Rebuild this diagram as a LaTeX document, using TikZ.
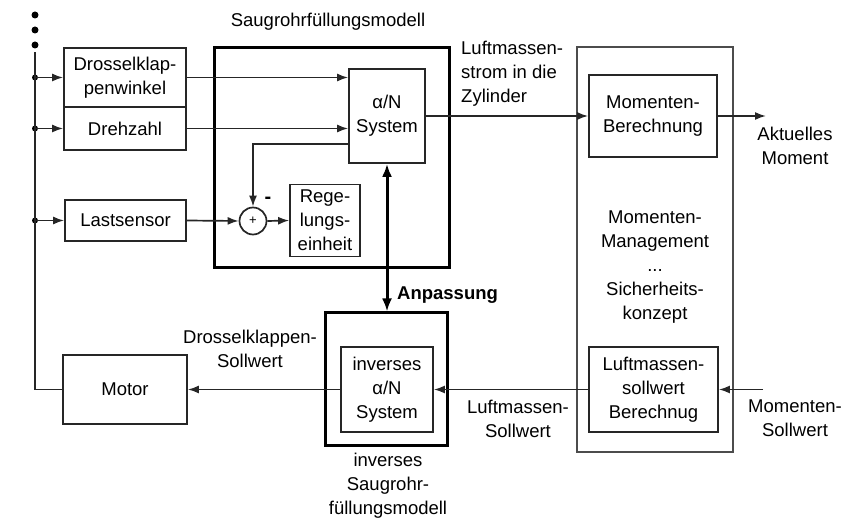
\documentclass[tikz,border=0pt]{standalone}
\usepackage{fontspec}
\setmainfont{Liberation Sans}
\usetikzlibrary{arrows.meta,calc}
\begin{document}
\begin{tikzpicture}[x=1pt,y=-1pt,
  every node/.style={font=\fontsize{18.5}{24}\selectfont},
  blk/.style={draw=black!85,line width=1.7pt,align=center,inner sep=0pt},
  thickbox/.style={draw=black,line width=3pt,inner sep=0pt},
  arr/.style={line width=1.7pt,draw=black!85,-{Latex[length=11pt,width=8pt]}},
  ln/.style={line width=1.7pt,draw=black!85},
  lbl/.style={align=center,inner sep=0pt},
  dotn/.style={circle,fill=black,inner sep=0pt,minimum size=7pt}]
\useasboundingbox (0,0) rectangle (843,518);
% left column
\node[blk,minimum width=122pt,minimum height=59pt] (drossel) at (125,77.5) {Drosselklap-\\penwinkel};
\node[blk,minimum width=122pt,minimum height=43pt] (drehzahl) at (125,128.5) {Drehzahl};
\node[blk,minimum width=121pt,minimum height=41pt] (last) at (125.5,220.5) {Lastsensor};
\node[blk,minimum width=124pt,minimum height=69pt] (motor) at (125,389.5) {Motor};
% Saugrohr model
\node[thickbox,minimum width=235pt,minimum height=220pt] (saug) at (331.5,158) {};
\node[lbl] (saugt) at (328,22) {Saugrohrfüllungsmodell};
\node[blk,minimum width=76pt,minimum height=94pt] (sys) at (387,116) {α/N\\System};
\node[draw=black!85,line width=1.7pt,circle,minimum size=27pt,inner sep=0pt] (sum) at (253,221) {\fontsize{13}{13}\selectfont +};
\node[blk,minimum width=70pt,minimum height=72pt] (regel) at (325,220.5) {Rege-\\lungs-\\einheit};
\node[lbl,font=\fontsize{20}{20}\selectfont\bfseries] (minus) at (268,200) {-};
% inverse model
\node[thickbox,minimum width=122pt,minimum height=132pt] (inv) at (386,379) {};
\node[blk,minimum width=92pt,minimum height=85pt] (invin) at (387,389.5) {inverses\\α/N\\System};
\node[lbl] (invt) at (388,486) {inverses\\Saugrohr-\\füllungsmodell};
% right block
\node[draw=black!70,line width=1.7pt,minimum width=156pt,minimum height=405pt,inner sep=0pt] (rbig) at (655,249.5) {};
\node[blk,minimum width=128pt,minimum height=82pt] (mber) at (653,116) {Momenten-\\Berechnung};
\node[blk,minimum width=129pt,minimum height=85pt] (lsb) at (653.5,389.5) {Luftmassen-\\sollwert\\Berechnug};
\node[lbl] (mgmt) at (655,267) {Momenten-\\Management\\...\\Sicherheits-\\konzept};
% labels
\node[lbl,align=left,anchor=north west] (lstrom) at (461,41) {Luftmassen-\\strom in die\\Zylinder};
\node[lbl] (akt) at (795,146) {Aktuelles\\Moment};
\node[lbl,anchor=west,font=\fontsize{18.5}{20}\selectfont\bfseries] (anp) at (397,295) {Anpassung};
\node[lbl] (dks) at (250,349) {Drosselklappen-\\Sollwert};
\node[lbl] (lms) at (518,419) {Luftmassen-\\Sollwert};
\node[lbl] (mso) at (795,418) {Momenten-\\Sollwert};
% bus
\coordinate (btop) at (35,52);
\coordinate (b1) at (35,77.5);
\coordinate (b2) at (35,128.5);
\coordinate (b3) at (35,220.5);
\coordinate (bbot) at (35,389.5);
\coordinate (aktp) at (766,116);
\coordinate (msop) at (763,389.5);
\node[dotn] (d1) at (35,15) {};
\node[dotn] (d2) at (35,30) {};
\node[dotn] (d3) at (35,45) {};
\node[dotn,minimum size=6pt] (j1) at (b1) {};
\node[dotn,minimum size=6pt] (j2) at (b2) {};
\node[dotn,minimum size=6pt] (j3) at (b3) {};
\draw[ln] (motor.west) -- (bbot) -- (btop);
\draw[arr] (b1) -- (drossel.west);
\draw[arr] (b2) -- (drehzahl.west);
\draw[arr] (b3) -- (last.west);
\draw[arr] (drossel.east) -- (drossel.east -| sys.west);
\draw[arr] (drehzahl.east) -- (drehzahl.east -| sys.west);
\draw[arr] ([yshift=-28pt]sys.west) -| (sum.north);
\draw[arr] (last.east) -- (sum.west);
\draw[arr] (sum.east) -- (regel.west);
\draw[line width=3pt,{Latex[length=13pt,width=10pt]}-{Latex[length=13pt,width=10pt]}] (sys.south) -- (sys.south |- inv.north);
\draw[arr] (sys.east) -- (mber.west);
\draw[arr] (mber.east) -- (aktp);
\draw[arr] (msop) -- (lsb.east);
\draw[arr] (lsb.west) -- (invin.east);
\draw[arr] (invin.west) -- (motor.east);
\end{tikzpicture}
\end{document}
